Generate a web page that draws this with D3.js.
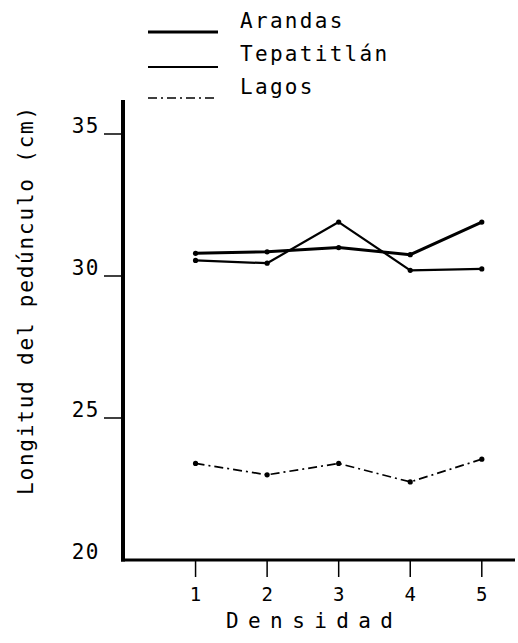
<!DOCTYPE html>
<html>
<head>
<meta charset="utf-8">
<script src="https://cdn.jsdelivr.net/npm/d3@7"></script>
<style>
  html, body { margin: 0; padding: 0; background: #fff; }
  svg { display: block; }
  text { font-family: "DejaVu Sans Mono", "Liberation Mono", monospace; fill: #000; }
</style>
</head>
<body>
<script>
// Peduncle length by planting density, three localities
const densidades = [1, 2, 3, 4, 5];
const arandas    = [30.8, 30.85, 31.0, 30.75, 31.9];
const tepatitlan = [30.55, 30.45, 31.9, 30.2, 30.25];
const lagos      = [23.4, 23.0, 23.4, 22.75, 23.55];
const yTicks = [25, 30, 35];
const yTickLabels = ["20", "25", "30", "35"];
const seriesNames = ["Arandas", "Tepatitlán", "Lagos"];

const W = 518, H = 643;
const svg = d3.select("body").append("svg").attr("width", W).attr("height", H);

const x = d3.scaleLinear().domain([0, 5.45]).range([124, 514]);
const y = d3.scaleLinear().domain([20, 35]).range([560, 134]);

const styles = [
  { width: 3,   dash: null },
  { width: 2.2, dash: null },
  { width: 1.7, dash: "9,4,2,4" }
];
const series = [arandas, tepatitlan, lagos];

// axes
svg.append("line").attr("x1", x(0) - 1).attr("x2", x(0) - 1)
  .attr("y1", 100).attr("y2", y(20) + 1.5)
  .attr("stroke", "#000").attr("stroke-width", 4);
svg.append("line").attr("x1", x(0) - 3).attr("x2", 515)
  .attr("y1", y(20)).attr("y2", y(20))
  .attr("stroke", "#000").attr("stroke-width", 3);

// y ticks
svg.selectAll(".ytick").data(yTicks).enter().append("line")
  .attr("x1", 104).attr("x2", x(0))
  .attr("y1", d => y(d)).attr("y2", d => y(d))
  .attr("stroke", "#000").attr("stroke-width", 1.5);
svg.selectAll(".ylab").data(yTickLabels).enter().append("text")
  .attr("x", 100).attr("y", d => y(+d) - 8)
  .attr("text-anchor", "end").attr("dominant-baseline", "central")
  .attr("font-size", 21).attr("letter-spacing", 1.5)
  .text(d => d);

// x ticks
svg.selectAll(".xtick").data(densidades).enter().append("line")
  .attr("x1", d => x(d)).attr("x2", d => x(d))
  .attr("y1", y(20)).attr("y2", y(20) + 17)
  .attr("stroke", "#000").attr("stroke-width", 1.5);
svg.selectAll(".xlab").data(densidades).enter().append("text")
  .attr("x", d => x(d)).attr("y", 594)
  .attr("text-anchor", "middle").attr("dominant-baseline", "central")
  .attr("font-size", 19)
  .text(d => d);

// axis titles
svg.append("text").attr("x", 226).attr("y", 628)
  .attr("font-size", 21).attr("letter-spacing", 9.4)
  .text("Densidad");
svg.append("text")
  .attr("transform", "translate(33,300) rotate(-90)")
  .attr("text-anchor", "middle")
  .attr("font-size", 21).attr("letter-spacing", 1.8)
  .text("Longitud del pedúnculo (cm)");

// series
const line = d3.line().x((d, i) => x(densidades[i])).y(d => y(d));
series.forEach((vals, k) => {
  svg.append("path").datum(vals)
    .attr("d", line)
    .attr("fill", "none").attr("stroke", "#000")
    .attr("stroke-width", styles[k].width)
    .attr("stroke-dasharray", styles[k].dash)
    .attr("stroke-linejoin", "round");
  svg.selectAll(".pt" + k).data(vals).enter().append("circle")
    .attr("cx", (d, i) => x(densidades[i])).attr("cy", d => y(d))
    .attr("r", 2.6).attr("fill", "#000");
});

// legend
const legendY = [32, 67, 98];
const legendTextY = [21, 54, 87];
seriesNames.forEach((name, k) => {
  svg.append("line").attr("x1", 148).attr("x2", 218)
    .attr("y1", legendY[k]).attr("y2", legendY[k])
    .attr("stroke", "#000").attr("stroke-width", styles[k].width)
    .attr("stroke-dasharray", styles[k].dash);
  svg.append("text").attr("x", 240).attr("y", legendTextY[k])
    .attr("dominant-baseline", "central")
    .attr("font-size", 21).attr("letter-spacing", 2.3)
    .text(name);
});
</script>
</body>
</html>
